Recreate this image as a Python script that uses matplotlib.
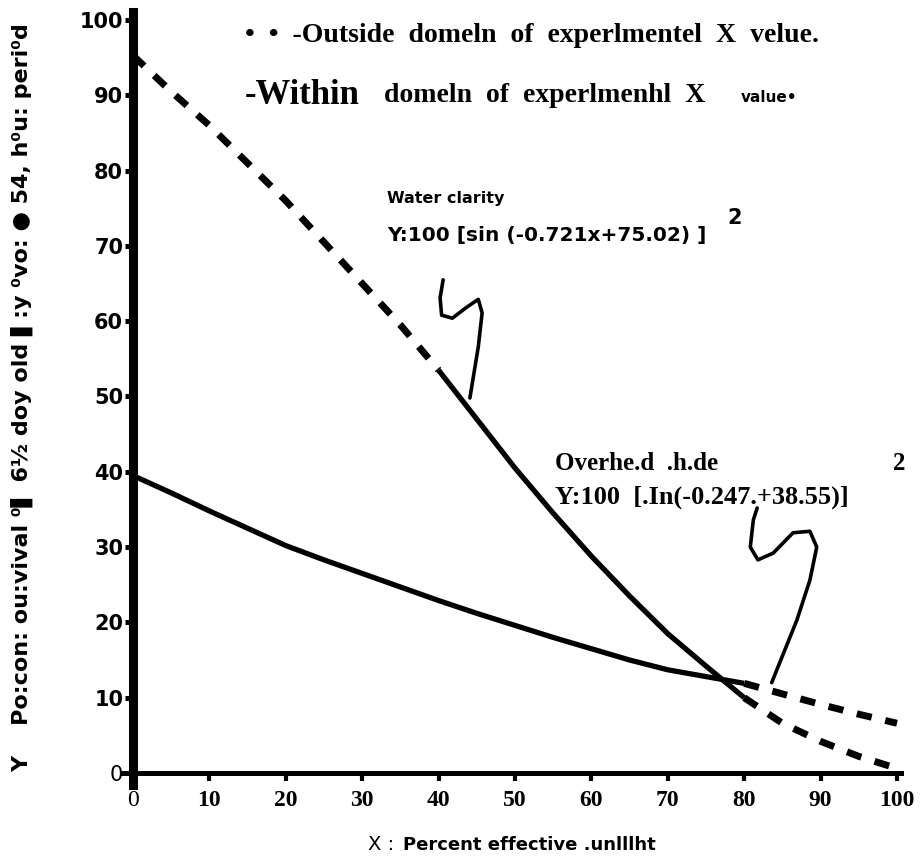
import numpy as np
import matplotlib.pyplot as plt

# values
x_pts = [0, 5, 10, 15, 20, 25, 30, 35, 40, 45, 50, 55, 60, 65, 70, 75, 80, 85, 90, 95, 100]
water = [95.3, 90.5, 86, 81, 76, 70.5, 65, 59.5, 53.5, 47, 40.5, 34.5, 28.8, 23.5, 18.5, 14.2, 10, 6.6, 4.2, 2.2, 0.6]
shade = [39.5, 37.2, 34.8, 32.5, 30.2, 28.3, 26.5, 24.7, 22.9, 21.2, 19.6, 18.0, 16.5, 15.0, 13.7, 12.8, 11.9, 10.5, 9.1, 7.8, 6.6]
water_lo, water_hi = 40, 80   # experimental X domain for water clarity
shade_lo, shade_hi = 0, 80    # experimental X domain for overhead shade

# hand drawn pointers (data units)
ptr1_x = [40.6, 40.2, 40.4, 41.8, 43.6, 45.2, 45.7, 45.2, 44.1]
ptr1_y = [65.5, 63.1, 60.8, 60.4, 61.8, 62.9, 61.1, 56.6, 49.8]
ptr2_x = [81.7, 81.2, 80.8, 81.8, 83.8, 86.4, 88.6, 89.5, 88.6, 86.9, 83.6]
ptr2_y = [35.2, 33.6, 30.0, 28.3, 29.2, 31.9, 32.1, 30.0, 25.6, 20.3, 12.0]

xticks = [0, 10, 20, 30, 40, 50, 60, 70, 80, 90, 100]
yticks = [0, 10, 20, 30, 40, 50, 60, 70, 80, 90, 100]

W, H = 924, 865
fig = plt.figure(figsize=(W/100, H/100), dpi=100)
ax = fig.add_axes([121.5/W, 80/H, 779.3/W, 772.5/H])
ax.set_xlim(-1.5, 100.5)
ax.set_ylim(-1.6, 101)

for s in ['top', 'right']:
    ax.spines[s].set_visible(False)
ax.spines['left'].set_position(('data', 0))
ax.spines['bottom'].set_position(('data', 0))
ax.spines['left'].set_linewidth(6.5)
ax.spines['bottom'].set_linewidth(3.6)

xa = np.array(x_pts); wa = np.array(water); sa = np.array(shade)
dash = (0, (2.2, 2.0))

def draw(y, lo, hi):
    inside = (xa >= lo) & (xa <= hi)
    ax.plot(xa[inside], y[inside], color='black', lw=3.8, solid_capstyle='butt')
    left = xa <= lo
    if left.sum() > 1:
        ax.plot(xa[left], y[left], color='black', lw=5, linestyle=dash, dash_capstyle='butt')
    right = xa >= hi
    ax.plot(xa[right], y[right], color='black', lw=5, linestyle=dash, dash_capstyle='butt')

draw(wa, water_lo, water_hi)
draw(sa, shade_lo, shade_hi)

ax.plot(ptr1_x, ptr1_y, color='black', lw=2.6, solid_capstyle='round', solid_joinstyle='round')
ax.plot(ptr2_x, ptr2_y, color='black', lw=2.6, solid_capstyle='round', solid_joinstyle='round')

ax.set_xticks(xticks)
ax.set_xticklabels([str(v) for v in xticks])
ax.set_yticks(yticks)
ax.set_yticklabels([str(v) for v in yticks])
ax.tick_params(axis='y', direction='out', length=6, width=3.6, pad=1)
ax.tick_params(axis='x', direction='out', length=6, width=3, pad=6)

for i, t in enumerate(ax.get_yticklabels()):
    t.set_fontfamily('DejaVu Sans')
    if i == 0:
        t.set_fontweight('normal'); t.set_fontsize(15)
    else:
        t.set_fontweight('heavy'); t.set_fontsize(15)
for i, t in enumerate(ax.get_xticklabels()):
    t.set_fontfamily('Liberation Serif')
    t.set_fontsize(17)
    t.set_fontweight('normal' if i == 0 else 'bold')

def ftext(px, py, s, **kw):
    fig.text(px/W, 1 - py/H, s, **kw)

serif = 'Liberation Serif'
ftext(245, 35, '•  •  -Outside  domeln  of  experlmentel  X  velue.', family=serif,
      weight='bold', fontsize=20, va='center', ha='left')
ftext(245, 95, '-Within', family=serif, weight='bold', fontsize=25, va='center', ha='left')
ftext(384, 95, 'domeln  of  experlmenhl  X', family=serif, weight='bold', fontsize=20,
      va='center', ha='left')
ftext(741, 97, 'value•', family='DejaVu Sans', weight='bold', fontsize=11, va='center', ha='left')

ftext(387, 199, 'Water clarity', family='DejaVu Sans', weight='bold', fontsize=11.5,
      va='center', ha='left')
ftext(387, 236, 'Y:100 [sin (-0.721x+75.02) ]', family='DejaVu Sans', weight='bold',
      fontsize=14.5, va='center', ha='left')
ftext(727, 218, '2', family='DejaVu Sans', weight='bold', fontsize=15, va='center', ha='left')

ftext(555, 463, 'Overhe.d  .h.de', family=serif, weight='bold', fontsize=18, va='center', ha='left')
ftext(893, 463, '2', family=serif, weight='bold', fontsize=18, va='center', ha='left')
ftext(555, 497, 'Y:100  [.In(-0.247.+38.55)]', family=serif, weight='bold', fontsize=19,
      va='center', ha='left')

ftext(22, 398, 'Y    Po:con: ou:vival ⁰▌ 6½ doy old ▌:y ⁰vo: ● 54, h⁰u: peri⁰d',
      family='DejaVu Sans', weight='bold', fontsize=16, rotation=90, va='center', ha='center')

ftext(400, 845, 'X : ', family='DejaVu Sans', fontsize=14, va='center', ha='right')
ftext(403, 845, 'Percent effective .unlllht', family='DejaVu Sans',
      weight='bold', fontsize=13, va='center', ha='left')

fig.savefig('out.png', dpi=100)
